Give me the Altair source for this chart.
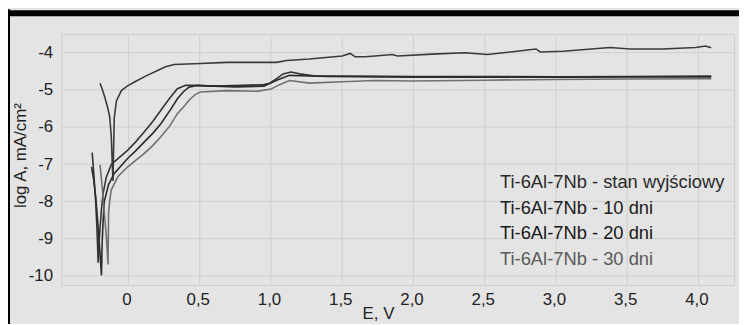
import altair as alt
import pandas as pd

# ---- data ----
series_names = [
    "Ti-6Al-7Nb - stan wyjściowy",
    "Ti-6Al-7Nb - 10 dni",
    "Ti-6Al-7Nb - 20 dni",
    "Ti-6Al-7Nb - 30 dni",
]

e_stan = [-0.20, -0.185, -0.167, -0.145, -0.132, -0.121, -0.114, -0.109, -0.106, -0.10, -0.085, -0.05,
          -0.01, 0.042, 0.12, 0.204, 0.26, 0.32, 0.505, 0.69, 1.04, 1.11, 1.27, 1.50, 1.555, 1.59, 1.66,
          1.73, 1.85, 1.89, 2.13, 2.36, 2.52, 2.68, 2.86, 2.89, 3.05, 3.38, 3.52, 3.75, 3.98, 4.05, 4.09]
a_stan = [-4.82, -4.98, -5.19, -5.5, -5.73, -6.26, -6.98, -7.45, -6.8, -5.75, -5.3, -5.02,
          -4.9, -4.79, -4.63, -4.48, -4.38, -4.32, -4.29, -4.26, -4.26, -4.21, -4.17, -4.09, -4.02, -4.11, -4.11,
          -4.09, -4.05, -4.09, -4.04, -4.00, -4.05, -3.98, -3.90, -3.98, -3.96, -3.86, -3.90, -3.90, -3.86, -3.82, -3.87]

e_10 = [-0.255, -0.245, -0.232, -0.222, -0.213, -0.205, -0.192, -0.179, -0.156, -0.12, -0.074, -0.005, 0.05,
        0.111, 0.17, 0.227, 0.29, 0.343, 0.40, 0.45, 0.6, 0.8, 0.95, 0.99, 1.04, 1.085, 1.14,
        1.2, 1.3, 1.6, 2.0, 2.5, 3.0, 3.5, 4.09]
a_10 = [-6.69, -7.2, -7.9, -8.7, -9.65, -9.0, -8.3, -7.8, -7.35, -7.0, -6.85, -6.62, -6.4,
        -6.13, -5.85, -5.55, -5.22, -4.97, -4.88, -4.88, -4.9, -4.88, -4.86, -4.82, -4.7, -4.57, -4.52,
        -4.57, -4.62, -4.63, -4.64, -4.64, -4.65, -4.64, -4.63]

e_20 = [-0.26, -0.245, -0.23, -0.215, -0.20, -0.19, -0.185, -0.178, -0.17, -0.14, -0.1, -0.005, 0.05,
        0.111, 0.17, 0.227, 0.29, 0.343, 0.385, 0.424, 0.48, 0.6, 0.75, 0.95, 1.04, 1.13, 1.2, 1.4, 2.0,
        2.5, 3.0, 3.5, 4.09]
a_20 = [-7.07, -7.4, -7.9, -8.6, -9.4, -9.99, -9.1, -8.5, -8.0, -7.55, -7.25, -6.84, -6.64,
        -6.40, -6.17, -5.91, -5.56, -5.24, -5.05, -4.93, -4.88, -4.9, -4.92, -4.9, -4.74, -4.61, -4.62, -4.64, -4.66,
        -4.66, -4.66, -4.65, -4.65]

e_30 = [-0.20, -0.185, -0.17, -0.155, -0.144, -0.14, -0.131, -0.121, -0.074, -0.005, 0.05, 0.111, 0.17,
        0.227, 0.29, 0.343, 0.395, 0.435, 0.47, 0.505, 0.69, 0.9, 1.0, 1.06, 1.13, 1.27, 1.5, 1.73, 2.0,
        2.5, 3.0, 3.5, 4.09]
a_30 = [-7.02, -7.6, -8.3, -9.0, -9.70, -8.31, -7.95, -7.69, -7.33, -7.07, -6.9, -6.71, -6.5,
        -6.26, -5.97, -5.64, -5.42, -5.24, -5.12, -5.06, -5.02, -5.04, -4.98, -4.86, -4.75, -4.82, -4.78, -4.75, -4.76,
        -4.74, -4.72, -4.71, -4.70]

line_colors = ["#3a3a3a", "#333333", "#2a2a2a", "#707070"]
legend_colors = ["#2a2a2a", "#202020", "#181818", "#5a5a5a"]

x_ticks = [0, 0.5, 1.0, 1.5, 2.0, 2.5, 3.0, 3.5, 4.0]
y_ticks = [-4, -5, -6, -7, -8, -9, -10]

# ---- build table ----
rows = []
for name, es, As in zip(series_names, [e_stan, e_10, e_20, e_30], [a_stan, a_10, a_20, a_30]):
    for i, (e, a) in enumerate(zip(es, As)):
        rows.append({"series": name, "E": e, "logA": a, "idx": i})
df = pd.DataFrame(rows)

W, H = 678, 253
FONT = "Liberation Sans"
xdom = [-0.47, 4.25]
ydom = [-10.25, -3.5]

xs = alt.Scale(domain=xdom, nice=False, zero=False)
ys = alt.Scale(domain=ydom, nice=False, zero=False)

xa = alt.Axis(values=x_ticks, grid=False, ticks=False, domain=False,
              labelExpr="datum.value == 0 ? '0' : replace(format(datum.value, '.1f'), '.', ',')",
              labelFontSize=17, labelFont=FONT, labelColor="#222222", labelPadding=7,
              labelOffset=-2, title="E, V", titleFont=FONT, titleFontSize=17,
              titleFontWeight="normal", titleColor="#222222",
              titleX=319, titleY=21, titleBaseline="top", titleAnchor="start", titleAlign="center")
ya = alt.Axis(values=y_ticks, grid=False, ticks=False, domain=False,
              labelExpr="toString(datum.value)",
              labelFontSize=17, labelFont=FONT, labelColor="#222222", labelPadding=9,
              title="log A, mA/cm²", titleFont=FONT, titleFontSize=17,
              titleFontWeight="normal", titleColor="#222222",
              titleX=-41, titleY=122, titleAngle=270, titleAlign="center",
              titleBaseline="middle", titleAnchor="start")

grid_x = alt.Chart(pd.DataFrame({"E": x_ticks})).mark_rule(color="#cfcfcf", strokeWidth=1).encode(
    x=alt.X("E:Q", scale=xs, axis=xa))
grid_y = alt.Chart(pd.DataFrame({"logA": y_ticks})).mark_rule(color="#cfcfcf", strokeWidth=1).encode(
    y=alt.Y("logA:Q", scale=ys, axis=ya))

lines = alt.Chart(df).mark_line(strokeWidth=1.6, clip=True).encode(
    x=alt.X("E:Q", scale=xs, axis=xa),
    y=alt.Y("logA:Q", scale=ys, axis=ya),
    color=alt.Color("series:N", scale=alt.Scale(domain=series_names, range=line_colors), legend=None),
    order="idx:Q",
    detail="series:N",
)

one = pd.DataFrame({"a": [0]})
top_band = alt.Chart(one).mark_rect(color="black").encode(
    x=alt.value(-54), x2=alt.value(W + 10), y=alt.value(-24), y2=alt.value(-18))
left_band = alt.Chart(one).mark_rect(color="black").encode(
    x=alt.value(-54), x2=alt.value(-52), y=alt.value(-25), y2=alt.value(H + 60))

legend_layers = []
for i, (name, col) in enumerate(zip(series_names, legend_colors)):
    legend_layers.append(
        alt.Chart(one).mark_text(align="left", baseline="middle", font=FONT, fontSize=18.5, color=col).encode(
            x=alt.value(442), y=alt.value(149 + 26 * i), text=alt.value(name)))

chart = alt.layer(grid_x, grid_y, lines, top_band, left_band, *legend_layers).properties(
    width=W, height=H,
    autosize=alt.AutoSizeParams(type="none"),
    padding={"left": 54, "top": 25, "right": 5, "bottom": 38},
    background="#e4e4e4",
).configure_view(stroke="#cdcdcd", fill="#e4e4e4")

chart.save("out.html", embed_options={"renderer": "svg", "actions": False})
